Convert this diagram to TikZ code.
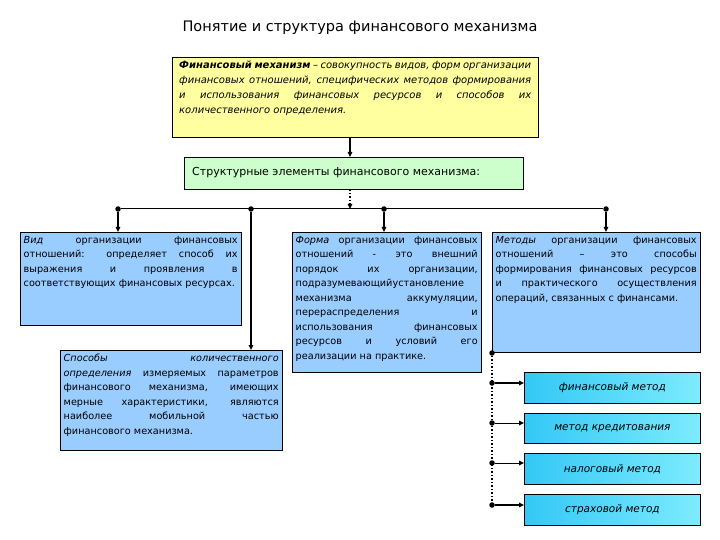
\documentclass[tikz,border=0pt]{standalone}
\usepackage{fontspec}
\setmainfont{DejaVu Sans}
\usetikzlibrary{arrows.meta}
\definecolor{yel}{RGB}{255,255,160}
\definecolor{grn}{RGB}{204,255,204}
\definecolor{lblue}{RGB}{153,204,255}
\definecolor{cyanL}{RGB}{51,200,245}
\definecolor{cyanR}{RGB}{125,235,255}
\hyphenpenalty=10000
\tolerance=9999
\begin{document}
\begin{tikzpicture}[x=1pt,y=-1pt,
 box/.style={draw=black, line width=1pt, anchor=north west, inner sep=0pt},
 txt/.style={anchor=north west, align=justify, inner xsep=3.5pt, inner ysep=4pt, font=\fontsize{9.7}{14.5}\selectfont},
 arr/.style={-{Triangle[length=5pt,width=4.5pt]}, line width=1.2pt},
 dotc/.style={circle, fill=black, inner sep=0pt, minimum size=5.5pt},
 meth/.style={draw=black, line width=0.8pt, anchor=north west, minimum width=176pt, left color=cyanL, right color=cyanR, inner sep=0pt, font=\fontsize{10.5}{12}\selectfont\itshape},
]
\useasboundingbox (0,0) rectangle (720,540);
\fill[white] (0,0) rectangle (720,540);

% title
\node[font=\fontsize{14.5}{16}\selectfont] (title) at (360,28) {Понятие и структура финансового механизма};

% definition box
\node[box, fill=yel, minimum width=366pt, minimum height=80pt] (def) at (172,57) {};
\node[txt, text width=352pt, inner xsep=7pt, font=\fontsize{10}{15}\selectfont\itshape] (deft) at (def.north west)
 {\textbf{Финансовый механизм} – совокупность видов, форм организации\linebreak
 финансовых отношений, специфических методов формирования\linebreak
 и использования финансовых ресурсов и способов их\linebreak
 количественного определения.};

% structural elements box
\node[box, fill=grn, minimum width=339pt, minimum height=32pt] (str) at (184,157) {};
\node[anchor=west, inner sep=0pt, font=\fontsize{11}{13}\selectfont] (strt) at (192,173) {Структурные элементы финансового механизма:};

\draw[arr] (def.south -| 350,0) -- (str.north -| 350,0);

% bus
\coordinate (busc) at (350,209);
\node[dotc] (d1) at (118,209) {};
\node[dotc] (d2) at (251,209) {};
\node[dotc] (d3) at (384,209) {};
\node[dotc] (d4) at (606,209) {};
\draw[line width=1pt] (d1) -- (d4);
\draw[arr, dotted, line width=1.5pt] (str.south -| busc) -- (busc);

% element boxes
\node[box, fill=lblue, minimum width=221pt, minimum height=93pt] (b1) at (20,232) {};
\node[txt, text width=214pt] (b1t) at (b1.north west)
 {\textit{Вид} организации финансовых\linebreak
 отношений: определяет способ их\linebreak
 выражения и проявления в\linebreak
 соответствующих финансовых ресурсах.};

\node[box, fill=lblue, minimum width=222pt, minimum height=100pt] (b2) at (60,350) {};
\node[txt, text width=215pt] (b2t) at (b2.north west)
 {\textit{Способы количественного\linebreak
 определения} измеряемых параметров\linebreak
 финансового механизма, имеющих\linebreak
 мерные характеристики, являются\linebreak
 наиболее мобильной частью\linebreak
 финансового механизма.};

\node[box, fill=lblue, minimum width=189pt, minimum height=140pt] (b3) at (292,232) {};
\node[txt, text width=182pt] (b3t) at (b3.north west)
 {\textit{Форма} организации финансовых\linebreak
 отношений - это внешний\linebreak
 порядок их организации,\linebreak
 подразумевающийустановление\linebreak
 механизма аккумуляции,\linebreak
 перераспределения и\linebreak
 использования финансовых\linebreak
 ресурсов и условий его\linebreak
 реализации на практике.};

\node[box, fill=lblue, minimum width=208pt, minimum height=120pt] (b4) at (492,232) {};
\node[txt, text width=201pt] (b4t) at (b4.north west)
 {\textit{Методы} организации финансовых\linebreak
 отношений – это способы\linebreak
 формирования финансовых ресурсов\linebreak
 и практического осуществления\linebreak
 операций, связанных с финансами.};

% connectors from bus
\draw[arr] (d1) -- (d1 |- b1.north);
\draw[arr, line width=2pt] (d2) -- (d2 |- b2.north);
\draw[arr] (d3) -- (d3 |- b3.north);
\draw[arr] (d4) -- (d4 |- b4.north);

% method boxes
\node[meth, minimum height=31pt] (m1) at (524,372) {финансовый метод};
\node[meth, minimum height=30pt] (m2) at (524,413) {метод кредитования};
\node[meth, minimum height=31pt] (m3) at (524,453) {налоговый метод};
\node[meth, minimum height=31pt] (m4) at (524,494) {страховой метод};

\node[dotc] (c0) at (b4.south west) {};
\node[dotc] (c1) at (492,383) {};
\node[dotc] (c2) at (492,423) {};
\node[dotc] (c3) at (492,463) {};
\node[dotc] (c4) at (492,505) {};
\draw[dotted, line width=1.5pt] (c0) -- (c4);
\draw[arr, line width=1.8pt] (c1) -- (c1 -| m1.west);
\draw[arr, line width=1pt] (c2) -- (c2 -| m2.west);
\draw[arr, line width=1pt] (c3) -- (c3 -| m3.west);
\draw[arr, line width=1.8pt] (c4) -- (c4 -| m4.west);
\end{tikzpicture}
\end{document}
